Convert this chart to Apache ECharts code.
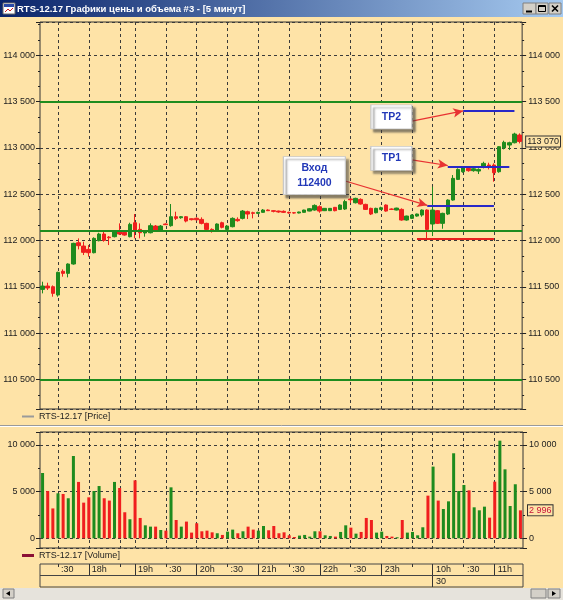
<!DOCTYPE html>
<html><head><meta charset="utf-8">
<script src="https://cdn.jsdelivr.net/npm/echarts@6/dist/echarts.min.js"></script>
<style>html,body{margin:0;padding:0;background:#FEE3A7;}#c{width:563px;height:600px;position:relative;}
#err{position:absolute;left:0;top:430px;width:563px;font:9px monospace;color:#900;z-index:9;white-space:pre-wrap;}</style>
</head><body><div id="c"></div><div id="err"></div><script>
// ---------- DATA ----------
const times = ['17:15','17:20','17:25','17:30','17:35','17:40','17:45','17:50','17:55','18:00','18:05','18:10','18:15','18:20','18:25','18:30','18:35','18:40',
'19:00','19:05','19:10','19:15','19:20','19:25','19:30','19:35','19:40','19:45','19:50','19:55',
'20:00','20:05','20:10','20:15','20:20','20:25','20:30','20:35','20:40','20:45','20:50','20:55',
'21:00','21:05','21:10','21:15','21:20','21:25','21:30','21:35','21:40','21:45','21:50','21:55',
'22:00','22:05','22:10','22:15','22:20','22:25','22:30','22:35','22:40','22:45','22:50','22:55',
'23:00','23:05','23:10','23:15','23:20','23:25','23:30','23:35','23:40','23:45',
'10:00','10:05','10:10','10:15','10:20','10:25','10:30','10:35','10:40','10:45','10:50','10:55',
'11:00','11:05','11:10','11:15','11:20','11:25'];
const opens = [111472,111508,111501,111411,111667,111645,111746,111976,111940,111904,111868,111998,112070,112037,112041,112102,112088,112041,
112192,112120,112081,112084,112156,112113,112178,112160,112257,112246,112257,112235,
112240,112228,112185,112120,112113,112192,112120,112149,112228,112239,112311,112300,
112293,112304,112329,112322,112318,112315,112304,112300,112297,112304,112318,112329,
112365,112322,112322,112358,112336,112340,112448,112408,112444,112390,112347,112300,
112336,112383,112340,112329,112336,112221,112239,112264,112275,112329,
112178,112322,112185,112286,112437,112660,112743,112779,112754,112750,112790,112815,
112815,112743,113000,113031,113056,113139];
const closes = [111508,111487,111429,111656,111645,111746,111969,111944,111872,111868,112023,112070,112001,112030,112106,112070,112059,112174,
112113,112084,112095,112160,112113,112156,112171,112257,112239,112257,112210,112225,
112224,112185,112120,112110,112178,112142,112156,112239,112214,112318,112286,112293,
112304,112329,112322,112315,112308,112304,112297,112297,112308,112329,112343,112379,
112318,112347,112347,112322,112383,112420,112440,112455,112394,112336,112286,112347,
112354,112318,112336,112350,112221,112264,112275,112286,112329,112120,
112329,112185,112293,112437,112671,112768,112790,112754,112775,112768,112833,112797,
112732,113013,113060,113056,113150,113070];
const lows = [111429,111465,111393,111393,111609,111602,111739,111904,111843,111825,111861,111991,111987,111951,112034,112059,112052,112034,
112023,112023,112041,112077,112095,112106,112167,112149,112221,112235,112196,112217,
112214,112174,112106,112085,112106,112131,112106,112142,112203,112228,112232,112239,
112286,112300,112318,112304,112300,112297,112290,112290,112293,112300,112315,112322,
112300,112318,112318,112315,112329,112330,112405,112400,112387,112330,112275,112293,
112329,112311,112329,112325,112214,112214,112232,112257,112257,112023,
112048,112178,112127,112275,112430,112653,112732,112743,112743,112718,112779,112768,
112635,112732,112984,112977,113049,113049];
const highs = [111555,111544,111515,111663,111688,111753,111976,112023,111987,111951,112034,112084,112095,112048,112113,112185,112095,112192,
112286,112185,112102,112185,112167,112167,112185,112394,112311,112264,112264,112239,
112250,112250,112192,112131,112185,112203,112167,112250,112250,112329,112322,112311,
112311,112340,112336,112329,112322,112325,112311,112304,112311,112332,112350,112390,
112379,112350,112350,112362,112390,112440,112450,112462,112455,112397,112354,112354,
112365,112390,112347,112354,112347,112268,112282,112290,112336,112336,
112581,112329,112300,112444,112707,112779,112797,112790,112790,112779,112851,112840,
112833,113020,113078,113067,113164,113157];
const volumes = [7000,5070,3200,4820,4750,4290,8820,6040,3820,4390,5070,5600,4290,4040,6040,5390,2790,2040,
6210,2180,1390,1250,1250,890,820,5460,1960,1250,1790,610,
1610,750,820,640,540,360,710,930,540,750,1250,930,
820,1320,860,1320,540,640,320,140,290,360,180,750,
750,320,250,180,680,1390,1140,500,680,2180,1960,610,
710,250,180,110,1960,610,680,320,1180,4570,
7680,4040,3140,3960,9110,5070,5710,5140,3320,3000,3390,2210,
6070,10460,7390,3460,5790,2996];
const gridTimes  = ['17:30','18:00','18:30','19:00','19:30','20:00','20:30','21:00','21:30','22:00','22:30','23:00','23:30','10:00','10:30','11:00'];
const timeLabels = [':30','18h','','19h',':30','20h',':30','21h',':30','22h',':30','23h','','10h',':30','11h'];
const hourTimes = ['18:00','19:00','20:00','21:00','22:00','23:00','10:00','11:00'];
const dayBreakTime = '10:00';
const dayLabel = '30';
const levelPrices = [113500, 112100, 110500];
const stopSegment  = {from:'23:35', to:'11:00', price:112020};
const targetSegments = [
  {from:'23:45', to:'11:00', price:112375},
  {from:'10:15', to:'11:15', price:112800},
  {from:'10:30', to:'11:20', price:113400}
];
const notes = [
  {text:'Вход\n112400', at:'21:55', price:112700},
  {text:'TP1', at:'23:10', price:112888},
  {text:'TP2', at:'23:10', price:113334}
];
const arrows = [
  {from:['22:25',112643], to:['23:45',112380]},
  {from:['23:30',112870], to:['10:15',112810]},
  {from:['23:30',113290], to:['10:30',113400]}
];
const titleText = 'RTS-12.17 Графики цены и объема #3 - [5 минут]';
const priceName = 'RTS-12.17 [Price]';
const volumeName = 'RTS-12.17 [Volume]';

// ---------- STYLE / BUILD ----------
const BG = '#FEE3A7', GREEN = '#1E8B1E', RED = '#F01E1E', GRIDC = '#3a3a3a', AXC = '#222';
const FONT = "'Liberation Sans Narrow','Liberation Sans',Arial,sans-serif";
const FS = 9;
const fmt = v => String(Math.round(v)).replace(/\B(?=(\d{3})+(?!\d))/g, ' ');
const labelFor = t => { const i = gridTimes.indexOf(t); return i < 0 ? '' : timeLabels[i]; };
const errBox = document.getElementById('err');
const report = (tag, e) => { errBox.textContent += tag + ': ' + (e && e.stack ? e.stack.slice(0, 260) : e) + '\n'; };

const candleData = times.map((t, i) => [opens[i], closes[i], lows[i], highs[i]]);
const volData = volumes.map((v, i) => ({value: v, itemStyle: {color: closes[i] >= opens[i] ? GREEN : RED}}));

const yAx = (gi, pos, min, max, step, minorN, split) => ({
  type: 'value', gridIndex: gi, position: pos, min: min, max: max,
  minInterval: step, maxInterval: step, splitNumber: Math.round((max - min) / step),
  axisLine: {show: false},
  axisTick: {show: true, length: 4, lineStyle: {color: AXC}},
  minorTick: {show: true, splitNumber: minorN, length: 2, lineStyle: {color: AXC}},
  axisLabel: {formatter: fmt, fontSize: FS, fontFamily: FONT, color: AXC, margin: pos === 'left' ? 5 : 6,
              showMinLabel: false, showMaxLabel: false},
  splitLine: {show: split, lineStyle: {color: GRIDC, type: [3, 3], width: 1}},
  minorSplitLine: {show: false}
});
const catAx = gi => ({
  type: 'category', gridIndex: gi, data: times, boundaryGap: true,
  axisLine: {show: false}, axisTick: {show: false}, axisLabel: {show: false}, splitLine: {show: false}
});

const lastClose = closes[closes.length - 1];
const lastVol = volumes[volumes.length - 1];

const option = {
  backgroundColor: BG,
  animation: false,
  grid: [
    {left: 40, right: 40, top: 22, height: 387, show: true, borderColor: '#333', borderWidth: 1, backgroundColor: 'transparent'},
    {left: 40, right: 40, top: 432, height: 116, show: true, borderColor: '#333', borderWidth: 1, backgroundColor: 'transparent'},
    {left: 40, right: 40, top: 564, height: 23, show: true, borderColor: '#444', borderWidth: 1, backgroundColor: 'transparent'}
  ],
  xAxis: [
    catAx(0), catAx(1),
    {type: 'category', gridIndex: 2, data: times, position: 'top', boundaryGap: true,
     axisLine: {show: false}, axisTick: {show: false}, splitLine: {show: false},
     axisLabel: {show: true, inside: true, interval: (i, v) => labelFor(v) !== '', formatter: v => labelFor(v),
                 align: 'left', padding: [0, 0, 0, 3], margin: 1, fontSize: FS, fontFamily: FONT, color: AXC}}
  ],
  yAxis: [
    yAx(0, 'left', 110180, 114360, 500, 3, true),
    yAx(0, 'right', 110180, 114360, 500, 3, false),
    yAx(1, 'left', -1040, 11390, 5000, 2, true),
    yAx(1, 'right', -1040, 11390, 5000, 2, false),
    {type: 'value', gridIndex: 2, show: false, min: 0, max: 1}
  ],
  legend: [
    {data: [{name: priceName, icon: 'rect', itemStyle: {color: '#9a9a9a', borderWidth: 0}}],
     left: 22, top: 412, itemWidth: 12, itemHeight: 2, itemGap: 5, padding: 0, selectedMode: false,
     textStyle: {fontSize: FS, fontFamily: FONT, color: AXC}},
    {data: [{name: volumeName, icon: 'rect', itemStyle: {color: '#8C1035', borderWidth: 0}}],
     left: 22, top: 551, itemWidth: 12, itemHeight: 3, itemGap: 5, padding: 0, selectedMode: false,
     textStyle: {fontSize: FS, fontFamily: FONT, color: AXC}}
  ],
  series: [
    {
      name: priceName, type: 'candlestick', xAxisIndex: 0, yAxisIndex: 0, z: 3, barWidth: 4,
      data: candleData,
      itemStyle: {color: GREEN, color0: RED, borderColor: GREEN, borderColor0: RED, borderWidth: 1},
      markLine: {
        silent: true, animation: false, symbol: ['none', 'none'], label: {show: false},
        data: [].concat(
          levelPrices.map(p => ({yAxis: p, lineStyle: {color: '#1E8C1E', width: 2, type: 'solid'}})),
          [[{coord: [stopSegment.from, stopSegment.price], lineStyle: {color: '#E82020', width: 2, type: 'solid'}},
            {coord: [stopSegment.to, stopSegment.price]}]],
          targetSegments.map(s => [{coord: [s.from, s.price], lineStyle: {color: '#2828C8', width: 2, type: 'solid'}},
                                   {coord: [s.to, s.price]}]),
          arrows.map(a => [{coord: a.from, symbol: 'none', lineStyle: {color: '#E83232', width: 1.2, type: 'solid'}},
                           {coord: a.to, symbol: 'arrow', symbolSize: [7, 10]}]),
          [{yAxis: lastClose, lineStyle: {color: 'rgba(0,0,0,0)', width: 0},
            label: {show: true, position: 'end', distance: 4, formatter: fmt(lastClose), fontSize: FS, fontFamily: FONT,
                    color: '#222', backgroundColor: BG, borderColor: '#333', borderWidth: 1, padding: [1, 1, 0, 1]}}]
        )
      },
      markPoint: {
        silent: true, animation: false,
        data: notes.map(n => ({
          name: n.text, coord: [n.at, n.price], symbol: 'rect',
          symbolSize: n.text.indexOf('\n') >= 0 ? [62, 38] : [41, 24],
          itemStyle: {color: '#fff', borderColor: '#C8C8C8', borderWidth: 1,
                      shadowColor: 'rgba(60,60,60,0.6)', shadowOffsetX: 3, shadowOffsetY: 3, shadowBlur: 2},
          label: {show: true, position: 'inside', formatter: '{b}', color: '#2238B8', fontWeight: 'bold',
                  fontSize: 10.5, fontFamily: FONT, lineHeight: 15}
        }))
      }
    },
    {
      name: volumeName, type: 'bar', xAxisIndex: 1, yAxisIndex: 2, z: 3, barWidth: 3, data: volData,
      markLine: {
        silent: true, animation: false, symbol: ['none', 'none'],
        data: [{yAxis: lastVol, lineStyle: {color: 'rgba(0,0,0,0)', width: 0},
                label: {show: true, position: 'end', distance: 5, formatter: fmt(lastVol), fontSize: FS, fontFamily: FONT,
                        color: '#C8143C', backgroundColor: BG, borderColor: '#333', borderWidth: 1, padding: [1, 1, 0, 1]}}]
      }
    }
  ]
};
const chart = echarts.init(document.getElementById('c'), null, {renderer: 'canvas', width: 563, height: 600});
try { chart.setOption(option); } catch (e) { report('base', e); }

// chrome + grid lines placed through the axes' own scales
const px = (axisIdx, t) => chart.convertToPixel({xAxisIndex: axisIdx}, t);
const g = [];
try {
  gridTimes.forEach(t => {
    const x = Math.round(px(0, t)) + 0.5;
    g.push({type: 'line', silent: true, z: 1, shape: {x1: x, y1: 22, x2: x, y2: 409}, style: {stroke: GRIDC, lineWidth: 1, lineDash: [3, 3]}});
    g.push({type: 'line', silent: true, z: 1, shape: {x1: x, y1: 432, x2: x, y2: 548}, style: {stroke: GRIDC, lineWidth: 1, lineDash: [3, 3]}});
    const full = t === dayBreakTime ? 587 : (hourTimes.includes(t) ? 576 : 567);
    g.push({type: 'line', silent: true, z: 5, shape: {x1: x, y1: 564, x2: x, y2: full}, style: {stroke: '#333', lineWidth: 1}});
  });
  const xd = Math.round(px(2, dayBreakTime));
  g.push({type: 'text', silent: true, z: 5, x: xd + 3, y: 582, style: {text: dayLabel, fill: AXC, font: FS + 'px ' + FONT, verticalAlign: 'middle'}});
} catch (e) { report('gridlines', e); }

g.push(
  {type: 'rect', silent: true, shape: {x: 0, y: 0, width: 563, height: 17},
   style: {fill: new echarts.graphic.LinearGradient(0, 0, 1, 0, [{offset: 0, color: '#0A246A'}, {offset: 1, color: '#A6CAF0'}])}},
  {type: 'rect', silent: true, shape: {x: 3, y: 3, width: 12, height: 11}, style: {fill: '#fff', stroke: '#6a6a6a', lineWidth: 1}},
  {type: 'rect', silent: true, shape: {x: 4, y: 4, width: 10, height: 3}, style: {fill: '#2a4aa8'}},
  {type: 'polyline', silent: true, shape: {points: [[5, 12], [8, 9], [10, 11], [13, 8]]}, style: {stroke: '#d02020', lineWidth: 1}},
  {type: 'text', silent: true, x: 17, y: 9, style: {text: titleText, fill: '#fff', font: "bold 9.5px " + FONT, verticalAlign: 'middle'}},
  {type: 'rect', silent: true, shape: {x: 523, y: 3, width: 13, height: 11}, style: {fill: '#D4D0C8', stroke: '#808080', lineWidth: 1}},
  {type: 'rect', silent: true, shape: {x: 536, y: 3, width: 12, height: 11}, style: {fill: '#D4D0C8', stroke: '#808080', lineWidth: 1}},
  {type: 'rect', silent: true, shape: {x: 549, y: 3, width: 12, height: 11}, style: {fill: '#D4D0C8', stroke: '#808080', lineWidth: 1}},
  {type: 'line', silent: true, shape: {x1: 526, y1: 11.5, x2: 532, y2: 11.5}, style: {stroke: '#000', lineWidth: 2}},
  {type: 'rect', silent: true, shape: {x: 538.5, y: 5.5, width: 7, height: 6}, style: {fill: 'rgba(0,0,0,0)', stroke: '#000', lineWidth: 1}},
  {type: 'line', silent: true, shape: {x1: 538.5, y1: 6.5, x2: 545.5, y2: 6.5}, style: {stroke: '#000', lineWidth: 1}},
  {type: 'line', silent: true, shape: {x1: 552, y1: 5.5, x2: 558, y2: 11.5}, style: {stroke: '#000', lineWidth: 1.6}},
  {type: 'line', silent: true, shape: {x1: 558, y1: 5.5, x2: 552, y2: 11.5}, style: {stroke: '#000', lineWidth: 1.6}},
  {type: 'line', silent: true, shape: {x1: 0, y1: 425.5, x2: 563, y2: 425.5}, style: {stroke: '#9a9a9a', lineWidth: 1}},
  {type: 'line', silent: true, shape: {x1: 0, y1: 426.5, x2: 563, y2: 426.5}, style: {stroke: '#ffffff', lineWidth: 1}},
  {type: 'line', silent: true, z: 5, shape: {x1: 40, y1: 575.5, x2: 523, y2: 575.5}, style: {stroke: '#444', lineWidth: 1}},
  {type: 'rect', silent: true, shape: {x: 0, y: 588, width: 563, height: 12}, style: {fill: '#E6E3DC'}},
  {type: 'rect', silent: true, shape: {x: 3, y: 589, width: 11, height: 9}, style: {fill: '#D4D0C8', stroke: '#808080', lineWidth: 1}},
  {type: 'polygon', silent: true, shape: {points: [[6, 593.5], [10, 591], [10, 596]]}, style: {fill: '#000'}},
  {type: 'rect', silent: true, shape: {x: 531, y: 589, width: 15, height: 9}, style: {fill: '#D4D0C8', stroke: '#808080', lineWidth: 1}},
  {type: 'rect', silent: true, shape: {x: 548, y: 589, width: 12, height: 9}, style: {fill: '#D4D0C8', stroke: '#808080', lineWidth: 1}},
  {type: 'polygon', silent: true, shape: {points: [[556, 593.5], [552, 591], [552, 596]]}, style: {fill: '#000'}}
);
try { chart.setOption({graphic: g}); } catch (e) { report('graphic', e); }
</script></body></html>
